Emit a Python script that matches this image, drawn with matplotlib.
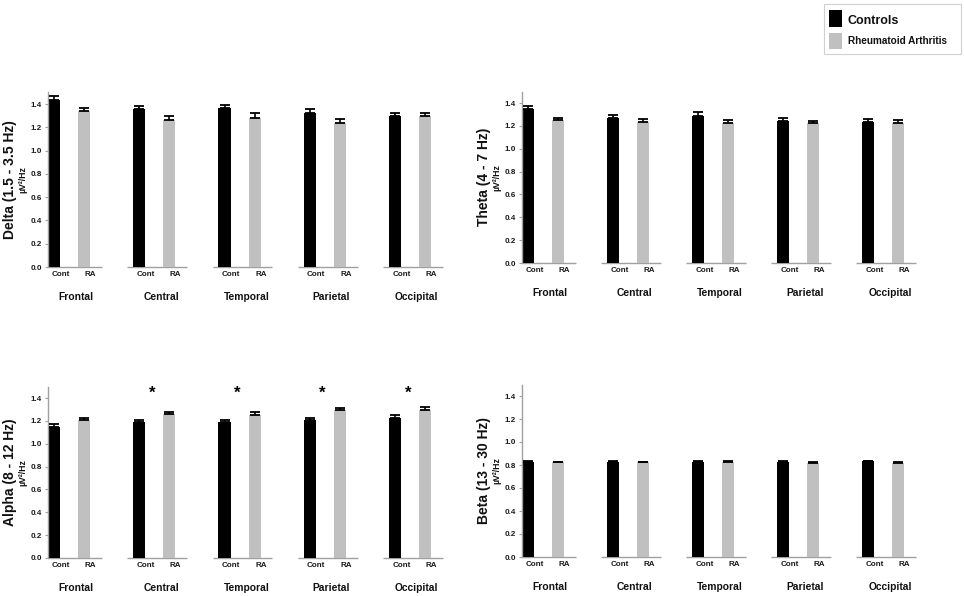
import matplotlib
matplotlib.use("Agg")
import matplotlib.pyplot as plt
from matplotlib.patches import Rectangle
import numpy as np

plt.rcParams['font.family'] = ['Liberation Sans', 'DejaVu Sans']
plt.rcParams['font.weight'] = 'bold'

regions = ["Frontal", "Central", "Temporal", "Parietal", "Occipital"]
group_labels = ["Cont", "RA"]
legend_labels = ["Controls", "Rheumatoid Arthritis"]
yticks = [0.0, 0.2, 0.4, 0.6, 0.8, 1.0, 1.2, 1.4]

band_titles = ["Delta (1.5 - 3.5 Hz)", "Theta (4 - 7 Hz)", "Alpha (8 - 12 Hz)", "Beta (13 - 30 Hz)"]

delta_cont = [1.431, 1.356, 1.362, 1.325, 1.296]
delta_cont_err = [0.034, 0.024, 0.028, 0.031, 0.023]
delta_ra = [1.342, 1.264, 1.284, 1.238, 1.293]
delta_ra_err = [0.028, 0.029, 0.036, 0.032, 0.026]

theta_cont = [1.348, 1.266, 1.287, 1.240, 1.231]
theta_cont_err = [0.023, 0.026, 0.034, 0.026, 0.032]
theta_ra = [1.252, 1.237, 1.229, 1.226, 1.226]
theta_ra_err = [0.020, 0.021, 0.023, 0.020, 0.023]

alpha_cont = [1.150, 1.188, 1.188, 1.205, 1.229]
alpha_cont_err = [0.026, 0.020, 0.017, 0.021, 0.026]
alpha_ra = [1.205, 1.263, 1.252, 1.292, 1.292]
alpha_ra_err = [0.021, 0.018, 0.023, 0.024, 0.030]
alpha_sig = [False, True, True, True, True]

beta_cont = [0.827, 0.828, 0.830, 0.830, 0.832]
beta_cont_err = [0.007, 0.007, 0.007, 0.007, 0.007]
beta_ra = [0.822, 0.822, 0.824, 0.820, 0.821]
beta_ra_err = [0.007, 0.007, 0.007, 0.007, 0.007]

panels = [
    (band_titles[0], delta_cont, delta_cont_err, delta_ra, delta_ra_err, None,
     [48, 267, 447, 92.4], 10),
    (band_titles[1], theta_cont, theta_cont_err, theta_ra, theta_ra_err, None,
     [522, 263, 920, 91.6], 484),
    (band_titles[2], alpha_cont, alpha_cont_err, alpha_ra, alpha_ra_err, alpha_sig,
     [48, 558, 447, 386.6], 10),
    (band_titles[3], beta_cont, beta_cont_err, beta_ra, beta_ra_err, None,
     [522, 557, 920, 384.5], 484),
]

W, H = 964, 596
fig = plt.figure(figsize=(W / 100, H / 100), dpi=100)

CONT_COLOR = "#000000"
RA_COLOR = "#c0c0c0"
AX_COLOR = "#a0a0a0"
off = 0.352
bw = 0.141

for title, cv, ce, rv, re_, sig, (l, b, r, t), tx in panels:
    ax = fig.add_axes([l / W, 1 - b / H, (r - l) / W, (b - t) / H])
    x = np.arange(len(regions))
    ax.bar(x, cv, width=bw, color=CONT_COLOR, zorder=2)
    ax.bar(x + off, rv, width=bw, color=RA_COLOR, zorder=2)
    ax.errorbar(x, cv, yerr=[np.zeros(len(cv)), ce], fmt='none', ecolor='black',
                elinewidth=1.2, capsize=3.6, capthick=1.3, zorder=3)
    ax.errorbar(x + off, rv, yerr=[np.zeros(len(rv)), re_], fmt='none', ecolor='black',
                elinewidth=1.2, capsize=3.6, capthick=1.3, zorder=3)
    # broken baseline per group
    for i in x:
        ax.plot([max(i - 0.14, -bw / 2), i + off + 0.21], [0, 0], color=AX_COLOR, lw=1.0,
                clip_on=False, solid_capstyle='butt', zorder=1)
    ax.set_xlim(-bw / 2, 4.61)
    ax.set_ylim(0, 1.5)
    for s in ['top', 'right', 'bottom']:
        ax.spines[s].set_visible(False)
    ax.spines['left'].set_color(AX_COLOR)
    ax.spines['left'].set_linewidth(1.0)
    ax.set_yticks(yticks)
    ax.set_yticklabels([f"{v:.1f}" for v in yticks], fontsize=5.8, fontweight='bold',
                       color='#1a1a1a')
    ax.tick_params(axis='y', length=2.5, width=0.8, color=AX_COLOR, pad=2)
    tick_pos = np.concatenate([x, x + off]) + 0.075
    ax.set_xticks(tick_pos)
    ax.set_xticklabels([group_labels[0]] * len(x) + [group_labels[1]] * len(x),
                       fontsize=5.8, fontweight='bold', color='#1a1a1a')
    ax.tick_params(axis='x', length=0, pad=3)
    for i, name in enumerate(regions):
        ax.annotate(name, xy=(i + off / 2 + 0.08, 0), xycoords=('data', 'axes fraction'),
                    xytext=(0, -21.5), textcoords='offset points', ha='center',
                    va='center', fontsize=7.4, fontweight='bold', color='#111111',
                    annotation_clip=False)
    if sig is not None:
        for i, s in enumerate(sig):
            if s:
                ax.text(i + 0.15, 1.44, "*", ha='center', va='center', fontsize=12,
                        fontweight='bold', color='black')
    yc = 1 - (b + t) / 2 / H
    fig.text(tx / W, yc, title, rotation=90, ha='center', va='center',
             fontsize=10, fontweight='bold', color='#111111')
    fig.text((l - 25) / W, yc, "µV²/Hz", rotation=90, ha='center', va='center',
             fontsize=6.3, fontweight='bold', color='#111111')

# legend box
fig.patches.append(Rectangle((824 / W, 1 - 54 / H), 137 / W, 50 / H, transform=fig.transFigure,
                             facecolor='white', edgecolor='#d0d0d0', lw=0.8))
fig.patches.append(Rectangle((829 / W, 1 - 27 / H), 13 / W, 17 / H, transform=fig.transFigure,
                             facecolor=CONT_COLOR, edgecolor='none'))
fig.patches.append(Rectangle((829 / W, 1 - 49 / H), 13 / W, 16 / H, transform=fig.transFigure,
                             facecolor=RA_COLOR, edgecolor='none'))
fig.text(848 / W, 1 - 20.5 / H, legend_labels[0], ha='left', va='center', fontsize=9,
         fontweight='bold', color='#111111')
fig.text(848 / W, 1 - 41 / H, legend_labels[1], ha='left', va='center', fontsize=7.2,
         fontweight='bold', color='#111111')

fig.savefig("out.png", dpi=100)
